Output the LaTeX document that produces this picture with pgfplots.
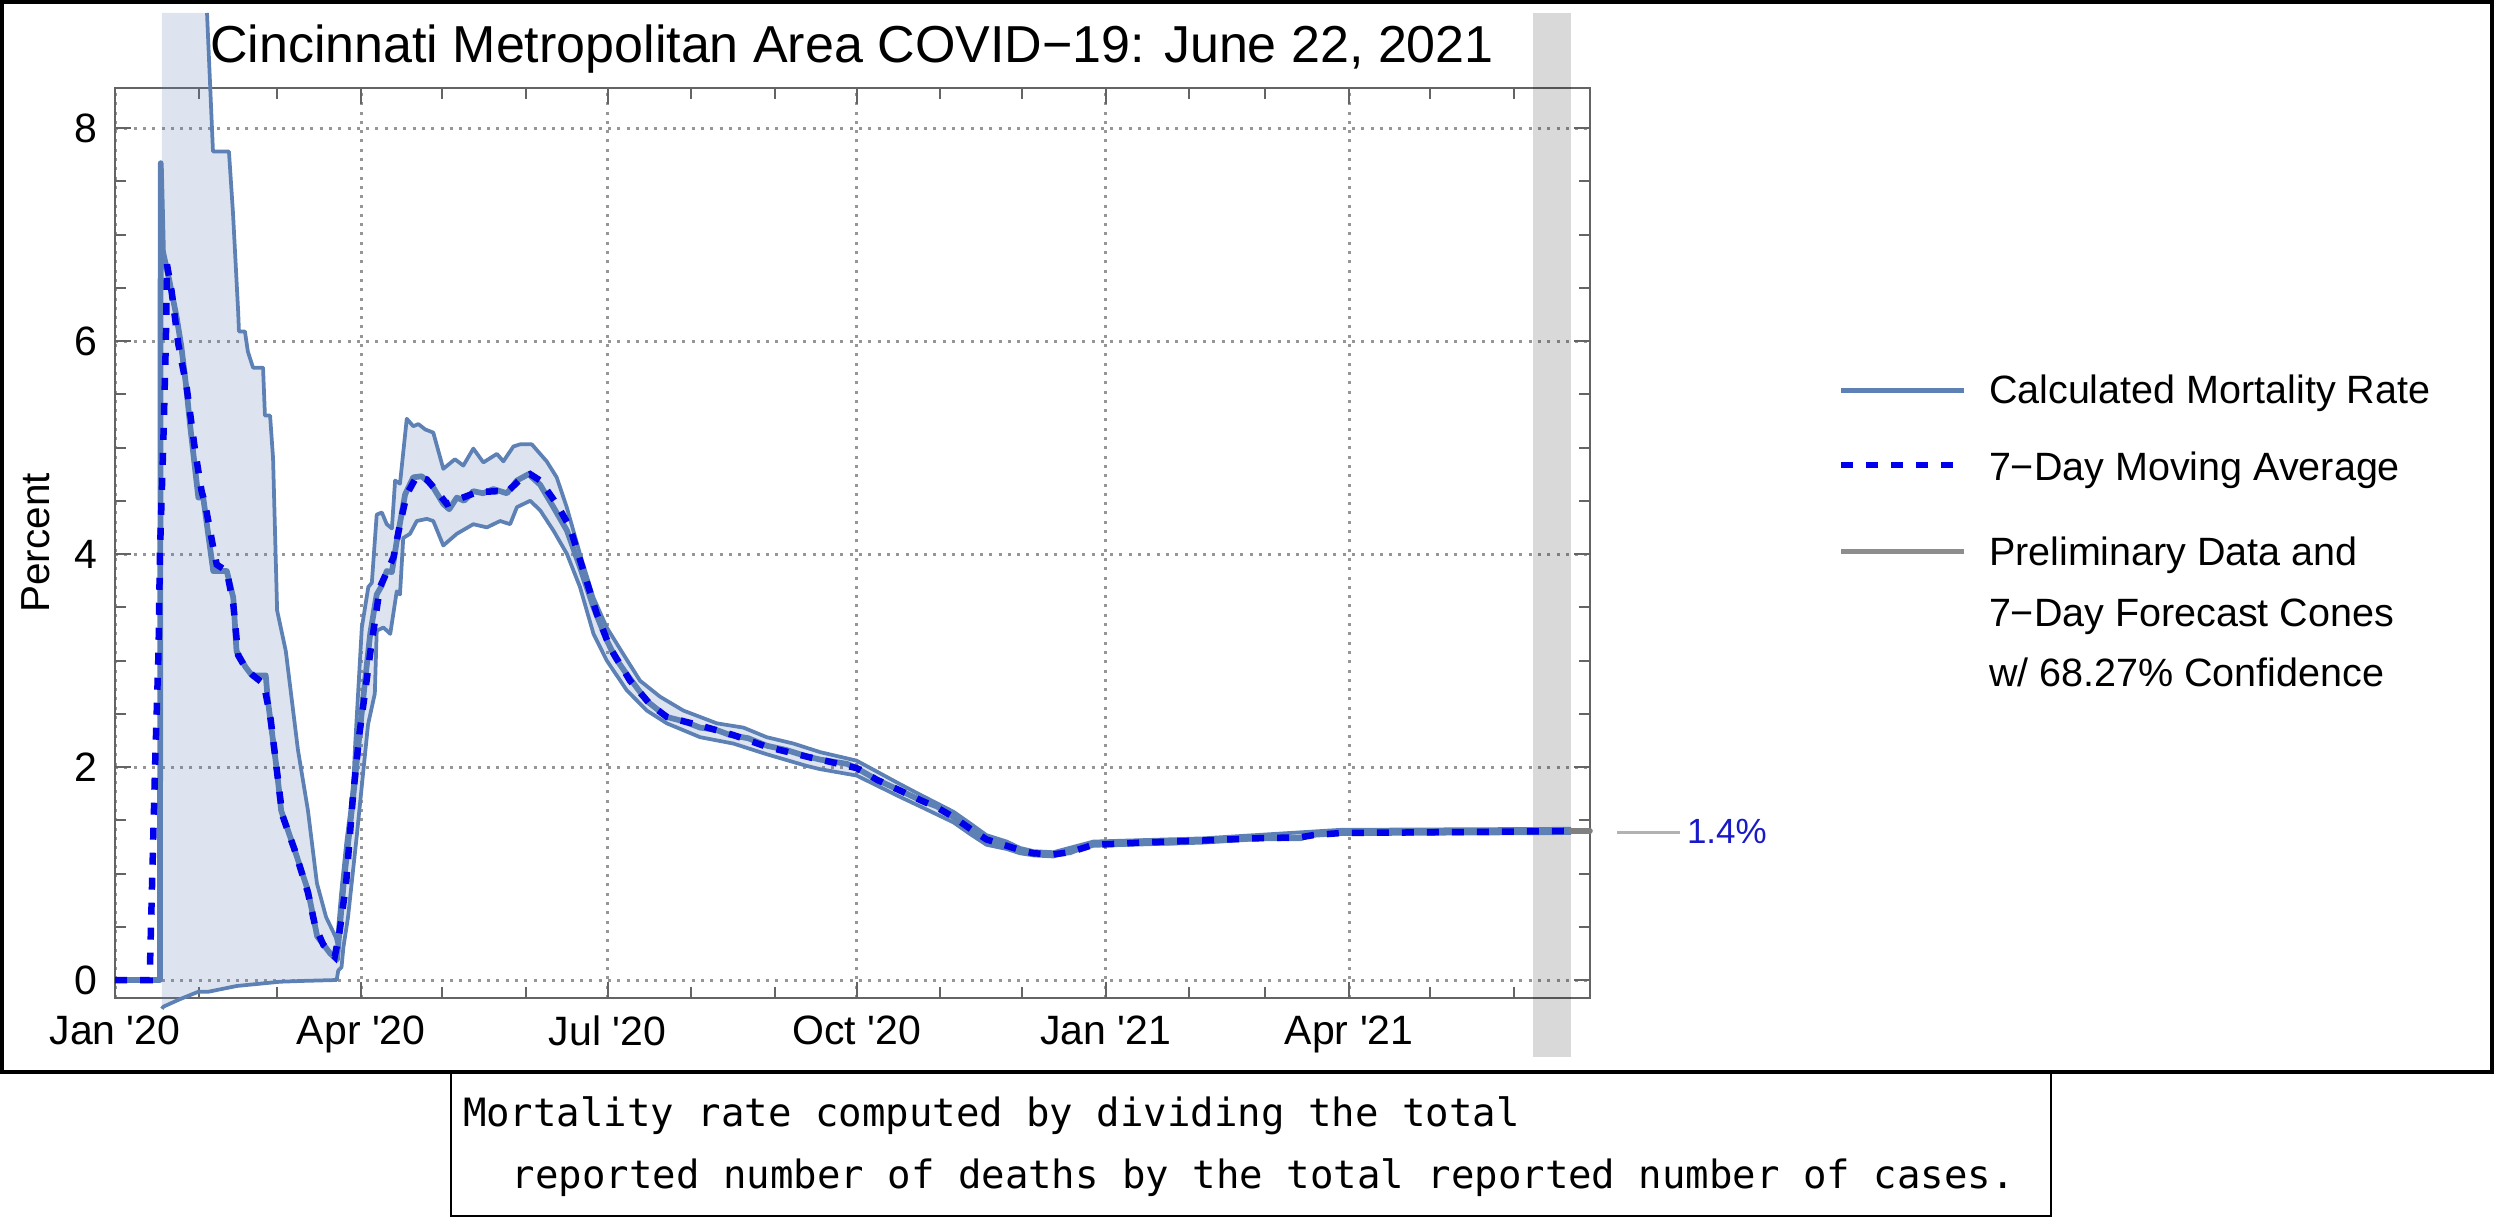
\documentclass[border=0pt]{standalone}
\usepackage{fontspec}
\setmainfont{Liberation Sans}[Ligatures=TeXOff]
\newfontfamily\monofont{DejaVu Sans Mono}
\usepackage{pgfplots}
\usepackage{pgfplotstable}
\pgfplotsset{compat=1.18}

\definecolor{steel}{RGB}{94,129,181}
\definecolor{mablue}{RGB}{0,0,235}
\definecolor{fcgray}{RGB}{128,128,128}
\definecolor{gridgray}{RGB}{150,150,150}
\definecolor{framegray}{RGB}{100,100,100}
\definecolor{lbl}{RGB}{25,25,200}

% days since Jan 1 2020, percent
\pgfplotstableread{
day rate
0 0
16.6 0
16.9 7.67
17.7 6.84
19.9 6.59
22.8 6.22
24.5 5.95
26.5 5.53
27.7 5.22
30.8 4.53
32.6 4.53
36.3 3.84
41.3 3.84
43.7 3.59
44.9 3.09
48.2 2.94
50.6 2.86
55.7 2.86
56.5 2.62
59.8 1.97
61.4 1.59
66.4 1.22
71.3 0.84
74.7 0.41
79.5 0.25
82.0 0.19
84.5 0.91
87.9 1.69
89.9 2.20
92.4 2.81
94.3 3.25
96.7 3.62
98.5 3.70
100.4 3.84
102.3 3.83
104.1 4.12
107.2 4.56
110.2 4.72
113.3 4.73
117.0 4.65
121.3 4.47
123.5 4.42
126.3 4.53
129.0 4.50
132.4 4.59
136.0 4.57
139.8 4.61
144.8 4.57
148.5 4.69
152.8 4.75
157.1 4.65
162.0 4.44
167.0 4.22
171.9 3.87
176.8 3.50
181.7 3.19
185.0 3.02
189.1 2.87
196.5 2.62
203.9 2.47
210.0 2.43
216.2 2.37
222.0 2.35
227.3 2.30
234.0 2.27
240.8 2.20
248.0 2.16
255.6 2.10
260.5 2.07
270.4 2.03
274.0 1.99
281.5 1.88
290.0 1.78
297.5 1.69
303.7 1.63
309.8 1.53
316.0 1.42
322.0 1.31
329.5 1.27
334.4 1.22
339.4 1.19
346.7 1.18
352.9 1.20
357.8 1.25
361.5 1.28
371.4 1.28
378.8 1.30
389.9 1.29
402.0 1.31
420.6 1.33
437.9 1.33
442.7 1.37
452.7 1.39
499.5 1.39
538.0 1.40
}\tabrate

\pgfplotstableread{
day avg
0 0
12.8 0
14.8 2.0
16.1 3.1
16.6 4.0
17.8 5.0
18.8 6.0
19.2 6.72
20.9 6.47
23.4 5.97
26.5 5.56
29.6 4.97
32.0 4.59
33.3 4.47
36.3 4.06
37.6 3.90
41.3 3.84
43.7 3.53
45.5 3.05
48.0 2.94
51.0 2.86
55.0 2.78
57.5 2.45
59.8 1.97
61.8 1.55
66.4 1.22
71.3 0.82
74.0 0.50
77.0 0.33
81.2 0.22
82.9 0.44
85.4 0.91
87.8 1.69
90.3 2.31
92.8 2.78
94.4 3.09
97.9 3.69
101.0 3.86
102.9 3.97
105.3 4.28
107.8 4.56
111.5 4.73
115.2 4.70
118.9 4.59
122.6 4.47
127.5 4.52
133.7 4.58
141.1 4.59
144.8 4.58
149.7 4.70
153.4 4.75
157.1 4.69
163.2 4.47
168.1 4.25
173.1 3.84
178.0 3.44
182.9 3.12
190.3 2.81
197.7 2.59
203.9 2.47
216.2 2.39
228.5 2.30
240.8 2.19
256.8 2.09
264.0 2.05
274.0 1.99
281.5 1.88
290.0 1.78
297.5 1.69
303.7 1.62
309.8 1.53
316.0 1.42
322.0 1.32
329.5 1.26
334.4 1.22
339.4 1.19
346.7 1.18
352.9 1.20
357.8 1.24
361.5 1.27
371.4 1.28
378.8 1.29
389.9 1.30
402.0 1.31
420.6 1.33
437.9 1.34
442.7 1.36
452.7 1.38
499.5 1.39
538.0 1.40
}\tabavg

\pgfplotstableread{
day hi
17.3 9.08
34.0 9.08
36.2 7.78
42.1 7.78
43.6 7.20
45.5 6.28
45.8 6.09
48.0 6.09
49.1 5.90
51.0 5.75
54.7 5.75
55.4 5.30
57.3 5.30
58.4 4.90
59.9 3.47
63.1 3.09
67.6 2.16
71.3 1.59
74.6 0.91
78.0 0.59
81.6 0.40
82.0 0.35
83.5 0.80
85.5 1.30
87.0 1.60
88.1 1.87
88.7 2.19
91.2 3.31
93.6 3.69
94.9 3.73
96.7 4.37
98.6 4.39
100.4 4.28
102.3 4.24
103.5 4.69
105.3 4.66
107.8 5.27
110.2 5.20
112.1 5.22
114.6 5.17
117.6 5.14
121.3 4.80
125.6 4.89
128.7 4.83
132.4 4.99
136.1 4.86
141.1 4.94
143.5 4.87
147.2 5.01
149.7 5.03
154.0 5.03
159.5 4.87
163.2 4.72
166.9 4.44
171.8 4.00
176.8 3.59
181.7 3.31
187.8 3.06
194.0 2.81
201.4 2.66
210.0 2.53
222.4 2.41
232.2 2.37
240.8 2.28
250.7 2.22
260.5 2.14
274.0 2.06
290.0 1.84
297.5 1.74
309.8 1.58
316.0 1.47
322.0 1.36
329.5 1.30
334.4 1.24
339.4 1.21
346.7 1.20
361.5 1.30
402.0 1.33
452.7 1.41
538.0 1.42
}\tabhi

\pgfplotstableread{
day lo
17.3 -0.27
17.9 -0.25
24.0 -0.18
30.8 -0.11
34.5 -0.11
45.0 -0.056
61.0 -0.016
70.0 -0.008
81.9 0.0
82.5 0.09
83.7 0.12
84.4 0.31
86.1 0.59
89.4 1.37
91.5 1.90
93.5 2.40
96.0 2.69
96.7 3.28
99.2 3.31
101.7 3.25
104.1 3.65
105.3 3.62
106.5 4.15
109.0 4.19
111.5 4.31
115.2 4.33
117.6 4.31
121.3 4.08
126.3 4.19
132.4 4.28
137.4 4.25
142.3 4.31
146.0 4.28
148.5 4.44
153.4 4.50
157.1 4.41
162.0 4.22
167.0 4.00
171.8 3.69
176.8 3.25
181.7 3.00
189.1 2.72
196.5 2.53
203.9 2.41
216.2 2.28
228.5 2.22
240.8 2.12
255.6 2.01
260.5 1.98
274.0 1.92
290.0 1.72
297.5 1.63
309.8 1.48
316.0 1.37
322.0 1.27
329.5 1.23
334.4 1.19
339.4 1.17
346.7 1.16
361.5 1.26
402.0 1.29
452.7 1.37
538.0 1.38
}\tablo

% band outline: upper bound forward, lower bound back
\pgfplotstableread{
day val
17.3 9.08
34.0 9.08
36.2 7.78
42.1 7.78
43.6 7.20
45.5 6.28
45.8 6.09
48.0 6.09
49.1 5.90
51.0 5.75
54.7 5.75
55.4 5.30
57.3 5.30
58.4 4.90
59.9 3.47
63.1 3.09
67.6 2.16
71.3 1.59
74.6 0.91
78.0 0.59
81.6 0.40
82.0 0.35
83.5 0.80
85.5 1.30
87.0 1.60
88.1 1.87
88.7 2.19
91.2 3.31
93.6 3.69
94.9 3.73
96.7 4.37
98.6 4.39
100.4 4.28
102.3 4.24
103.5 4.69
105.3 4.66
107.8 5.27
110.2 5.20
112.1 5.22
114.6 5.17
117.6 5.14
121.3 4.80
125.6 4.89
128.7 4.83
132.4 4.99
136.1 4.86
141.1 4.94
143.5 4.87
147.2 5.01
149.7 5.03
154.0 5.03
159.5 4.87
163.2 4.72
166.9 4.44
171.8 4.00
176.8 3.59
181.7 3.31
187.8 3.06
194.0 2.81
201.4 2.66
210.0 2.53
222.4 2.41
232.2 2.37
240.8 2.28
250.7 2.22
260.5 2.14
274.0 2.06
290.0 1.84
297.5 1.74
309.8 1.58
316.0 1.47
322.0 1.36
329.5 1.30
334.4 1.24
339.4 1.21
346.7 1.20
361.5 1.30
402.0 1.33
452.7 1.41
538.0 1.42
538.0 1.38
452.7 1.37
402.0 1.29
361.5 1.26
346.7 1.16
339.4 1.17
334.4 1.19
329.5 1.23
322.0 1.27
316.0 1.37
309.8 1.48
297.5 1.63
290.0 1.72
274.0 1.92
260.5 1.98
255.6 2.01
240.8 2.12
228.5 2.22
216.2 2.28
203.9 2.41
196.5 2.53
189.1 2.72
181.7 3.00
176.8 3.25
171.8 3.69
167.0 4.00
162.0 4.22
157.1 4.41
153.4 4.50
148.5 4.44
146.0 4.28
142.3 4.31
137.4 4.25
132.4 4.28
126.3 4.19
121.3 4.08
117.6 4.31
115.2 4.33
111.5 4.31
109.0 4.19
106.5 4.15
105.3 3.62
104.1 3.65
101.7 3.25
99.2 3.31
96.7 3.28
96.0 2.69
93.5 2.40
91.5 1.90
89.4 1.37
86.1 0.59
84.4 0.31
83.7 0.12
82.5 0.09
81.9 0.0
70.0 -0.008
61.0 -0.016
45.0 -0.056
34.5 -0.11
30.8 -0.11
24.0 -0.18
17.9 -0.25
17.3 -0.27
}\tabband

\begin{document}
\begin{tikzpicture}
\useasboundingbox (0,0) rectangle (500pt,-243.6pt);
\begin{axis}[
  at={(23pt,-199.6pt)}, anchor=south west,
  scale only axis, width=295pt, height=182pt,
  xmin=0, xmax=545, ymin=-0.169, ymax=8.376,
  clip=false,
  axis line style={draw=framegray, line width=0.4pt},
  xtick={0,91,182,274,366,456},
  xticklabels={Jan '20,Apr '20,Jul '20,Oct '20,Jan '21,Apr '21},
  minor xtick={31,60,121,152,213,244,305,335,397,425,486,517},
  ytick={0,2,4,6,8},
  minor ytick={0.5,1,...,8},
  tick align=inside,
  major tick length=3.2pt, minor tick length=2.2pt,
  tick style={draw=framegray, line width=0.4pt},
  grid=major,
  major grid style={draw=gridgray, line width=0.6pt, dash pattern=on 0.6pt off 1.26pt},
  ticklabel style={font=\fontsize{8.2}{9.8}\selectfont},
  /pgf/number format/assume math mode=true,
  ylabel={Percent},
  ylabel style={at={(axis description cs:-0.0447,0.5)}, anchor=base, font=\fontsize{8.1}{9.7}\selectfont},
]
\addplot[fill=black, fill opacity=0.15, draw=none] coordinates {(524,-0.723) (538,-0.723) (538,9.08) (524,9.08)};
\addplot[fill=steel, fill opacity=0.21, draw=none] table[x=day, y=val] {\tabband};
\addplot[steel, line width=0.75pt, line join=round] table[x=day, y=lo] {\tablo};
\addplot[steel, line width=0.75pt, line join=round, restrict x to domain=34:545] table[x=day, y=hi] {\tabhi};
\addplot[steel, line width=1.15pt, line join=round] table[x=day, y=rate] {\tabrate};
\addplot[mablue, line width=1.3pt, dash pattern=on 2.4pt off 2.6pt] table[x=day, y=avg] {\tabavg};
\addplot[fcgray, line width=1.1pt, line cap=round] coordinates {(538,1.40) (545,1.40)};
\end{axis}

\begin{scope}[x=0.2pt, y=-0.2pt]
\draw[line width=0.8pt] (2,2) rectangle (2492,1072);
\draw[line width=0.5pt] (451,1073) rectangle (2051,1216);
\node[anchor=base, inner sep=0pt, font=\fontsize{10.4}{12}\selectfont] at (852,62) {Cincinnati Metropolitan Area COVID−19: June 22, 2021};
% legend
\draw[steel, line width=1pt] (1841,390) -- (1964,390);
\draw[mablue, line width=1.3pt, dash pattern=on 2.4pt off 2.6pt] (1841,465) -- (1955,465);
\draw[fcgray!90, line width=1pt] (1841,551) -- (1964,551);
\begin{scope}[every node/.style={anchor=base west, inner sep=0pt, font=\fontsize{7.9}{9.5}\selectfont}]
\node at (1988,403) {Calculated Mortality Rate};
\node at (1988,480) {7−Day Moving Average};
\node at (1988,565) {Preliminary Data and};
\node at (1988,627) {7−Day Forecast Cones};
\node at (1988,687) {w/ 68.27\% Confidence};
\end{scope}
% end label
\draw[gray!60, line width=0.6pt] (1617,832) -- (1680,832);
\node[anchor=base west, inner sep=0pt, text=lbl, font=\fontsize{7}{8.4}\selectfont] at (1686,843) {1.4\%};
% caption
\begin{scope}[every node/.style={anchor=base west, inner sep=0pt, font=\monofont\fontsize{7.8}{9.4}\selectfont}]
\node at (462,1127) {Mortality rate computed by dividing the total};
\node at (511,1188) {reported number of deaths by the total reported number of cases.};
\end{scope}
\end{scope}
\end{tikzpicture}
\end{document}
